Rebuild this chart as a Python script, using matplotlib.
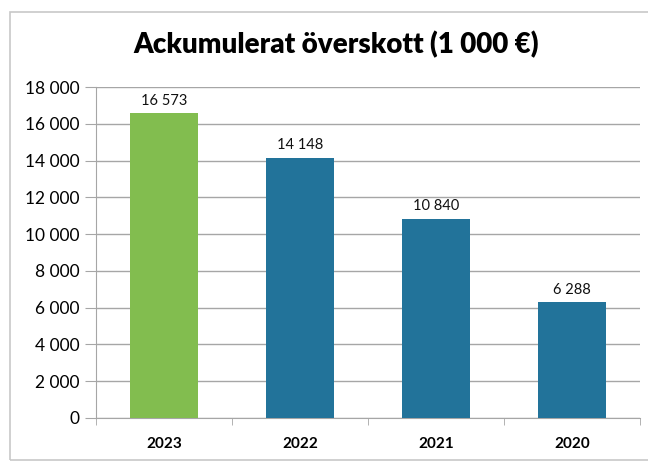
import matplotlib
matplotlib.use("Agg")
import matplotlib.pyplot as plt
from matplotlib.patches import Rectangle
from matplotlib.ticker import FixedLocator, FuncFormatter

categories = ["2023", "2022", "2021", "2020"]
values = [16573, 14148, 10840, 6288]
colors = ["#82BD4F", "#22739A", "#22739A", "#22739A"]
yticks = list(range(0, 18001, 2000))
title = "Ackumulerat överskott (1 000 €)"

plt.rcParams['font.family'] = ['Lato', 'DejaVu Sans']

fig = plt.figure(figsize=(6.48, 4.62), dpi=100)
fig.patches.append(Rectangle((10/648, 2/462), 1.2, 448/462, transform=fig.transFigure,
                             fill=False, edgecolor="#c8c8c8", linewidth=1.2))
ax = fig.add_axes([96/648, 1-418/462, (640-96)/648, (418-87)/462])

x = list(range(len(categories)))
bars = ax.bar(x, values, width=0.5, color=colors, zorder=3)
for xi, v in zip(x, values):
    ax.text(xi, v + 300, f"{v:,}".replace(",", " "), ha="center", va="bottom",
            fontsize=10.5, color="#111111")

ax.set_xlim(-0.5, len(categories) - 0.5)
ax.set_ylim(0, 18000)
ax.yaxis.set_major_locator(FixedLocator(yticks))
ax.yaxis.set_major_formatter(FuncFormatter(lambda v, p: f"{int(v):,}".replace(",", " ")))
ax.grid(axis="y", color="#a6a6a6", linewidth=1.0, zorder=0)
ax.set_xticks(x)
ax.set_xticklabels(categories, fontweight="bold", fontsize=11)
ax.set_xticks([i - 0.5 for i in range(len(categories) + 1)], minor=True)
ax.tick_params(axis="x", which="major", length=0, pad=14)
ax.tick_params(axis="x", which="minor", length=5, color="#a6a6a6", direction="out")
ax.tick_params(axis="y", length=8, color="#a6a6a6", labelsize=12.5, pad=4)
for s in ["top", "right"]:
    ax.spines[s].set_visible(False)
for s in ["left", "bottom"]:
    ax.spines[s].set_color("#a6a6a6")

fig.text(0.518, 1-45/462, title, ha="center", va="center", fontsize=20, fontweight="heavy")

fig.savefig("out.png", dpi=100)
